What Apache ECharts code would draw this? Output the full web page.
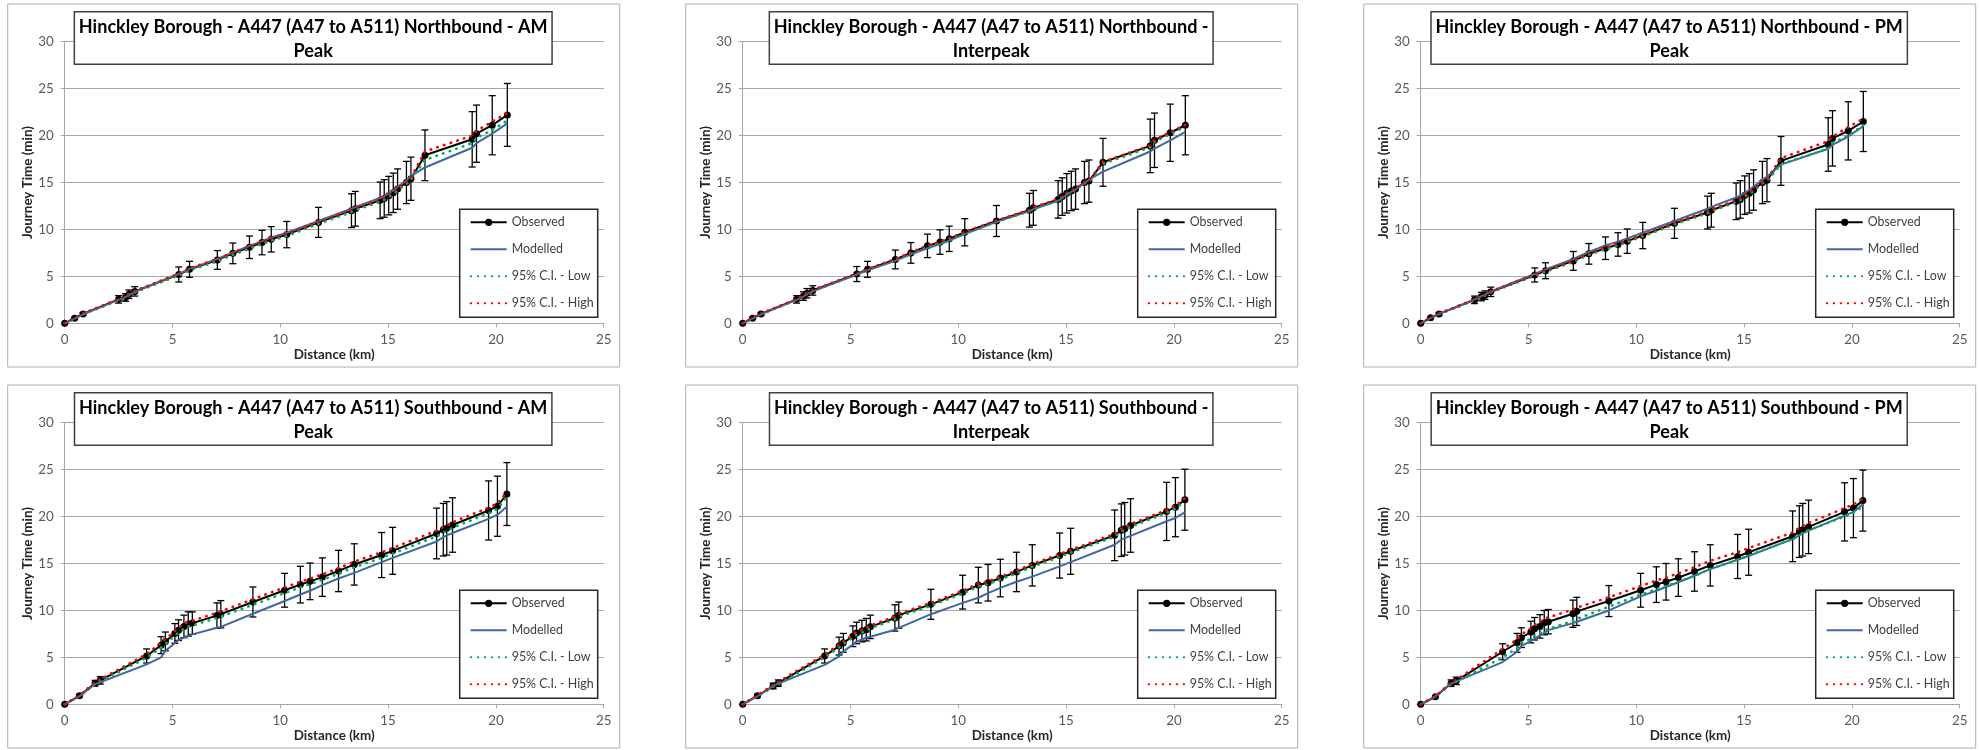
<!DOCTYPE html>
<html><head><meta charset="utf-8">
<script src="https://cdn.jsdelivr.net/npm/echarts@6/dist/echarts.min.js"></script>
<style>html,body{margin:0;padding:0;background:#fff;}#c{width:1979px;height:750px;}</style>
</head><body><div id="c"></div>
<script>
// ---------- data ----------
const xTicks = [0, 5, 10, 15, 20, 25];
const yTicks = [0, 5, 10, 15, 20, 25, 30];
const seriesNames = ['Observed', 'Modelled', '95% C.I. - Low', '95% C.I. - High'];

const distNB = [0, 0.46, 0.85, 2.5, 2.82, 2.98, 3.25, 5.29, 5.79, 7.08, 7.8, 8.57, 9.15, 9.58, 10.3, 11.77, 13.3, 13.48, 14.63, 14.82, 15.03, 15.24, 15.44, 15.85, 16.06, 16.71, 18.9, 19.1, 19.83, 20.53];
const distSB = [0, 0.68, 1.41, 1.65, 3.8, 4.47, 4.67, 5.11, 5.28, 5.53, 5.73, 5.92, 7.06, 7.24, 8.73, 10.2, 10.93, 11.38, 11.95, 12.7, 13.43, 14.7, 15.21, 17.25, 17.56, 17.72, 17.99, 19.66, 20.07, 20.51];

// Northbound AM
const nbAmObs  = [0, 0.55, 1.0, 2.55, 2.75, 3.1, 3.4, 5.2, 5.75, 6.75, 7.45, 8.1, 8.6, 8.95, 9.45, 10.75, 12.0, 12.2, 13.1, 13.3, 13.6, 13.9, 14.3, 15.0, 15.4, 17.9, 19.6, 20.2, 21.1, 22.2];
const nbAmMod  = [0, 0.5, 0.95, 2.5, 2.8, 3.0, 3.35, 5.25, 5.8, 6.85, 7.55, 8.25, 8.75, 9.15, 9.65, 10.9, 12.2, 12.4, 13.35, 13.55, 13.85, 14.15, 14.55, 15.2, 15.7, 16.6, 18.7, 19.2, 20.2, 21.3];
const nbAmLow  = [0, 0.5, 0.95, 2.45, 2.7, 3.0, 3.3, 5.1, 5.65, 6.6, 7.3, 7.95, 8.45, 8.8, 9.3, 10.6, 11.85, 12.05, 12.95, 13.15, 13.45, 13.75, 14.15, 14.85, 15.3, 17.4, 19.2, 19.75, 20.6, 21.6];
const nbAmHigh = [0, 0.6, 1.05, 2.6, 2.85, 3.15, 3.45, 5.3, 5.85, 6.85, 7.55, 8.2, 8.7, 9.05, 9.55, 10.85, 12.1, 12.3, 13.2, 13.4, 13.7, 14.0, 14.4, 15.1, 15.55, 18.3, 20.0, 20.5, 21.5, 22.4];
const nbAmErr  = [0, 0.1, 0.15, 0.4, 0.4, 0.45, 0.5, 0.8, 0.85, 1.0, 1.1, 1.2, 1.3, 1.35, 1.4, 1.6, 1.8, 1.85, 1.95, 2.0, 2.05, 2.1, 2.15, 2.25, 2.3, 2.7, 2.95, 3.05, 3.15, 3.35];

// Northbound Interpeak
const nbIpObs  = [0, 0.55, 1.0, 2.55, 2.9, 3.2, 3.5, 5.25, 5.75, 6.8, 7.5, 8.25, 8.65, 9.0, 9.7, 10.9, 12.05, 12.3, 13.2, 13.5, 13.85, 14.1, 14.3, 15.0, 15.15, 17.15, 18.9, 19.5, 20.3, 21.1];
const nbIpMod  = [0, 0.5, 0.95, 2.5, 2.85, 3.1, 3.4, 5.2, 5.65, 6.65, 7.35, 8.0, 8.45, 8.8, 9.5, 10.8, 11.95, 12.15, 13.05, 13.35, 13.7, 14.0, 14.25, 14.95, 15.3, 16.15, 18.3, 18.6, 19.5, 20.4];
const nbIpLow  = [0, 0.5, 0.95, 2.5, 2.85, 3.15, 3.45, 5.2, 5.7, 6.75, 7.45, 8.15, 8.55, 8.9, 9.6, 10.8, 11.95, 12.2, 13.1, 13.4, 13.75, 14.0, 14.2, 14.9, 15.05, 17.0, 18.75, 19.35, 20.15, 20.95];
const nbIpHigh = [0, 0.6, 1.05, 2.6, 2.95, 3.25, 3.55, 5.3, 5.8, 6.85, 7.55, 8.3, 8.7, 9.05, 9.75, 10.95, 12.1, 12.35, 13.25, 13.55, 13.9, 14.15, 14.35, 15.05, 15.2, 17.2, 18.95, 19.55, 20.35, 21.15];
const nbIpErr  = [0, 0.1, 0.15, 0.4, 0.45, 0.5, 0.5, 0.8, 0.85, 1.0, 1.1, 1.25, 1.3, 1.35, 1.45, 1.65, 1.8, 1.85, 2.0, 2.0, 2.1, 2.1, 2.15, 2.25, 2.25, 2.55, 2.85, 2.9, 3.05, 3.15];

// Northbound PM
const nbPmObs  = [0, 0.6, 1.0, 2.5, 2.85, 3.0, 3.35, 5.15, 5.6, 6.65, 7.4, 8.0, 8.4, 8.75, 9.35, 10.65, 11.8, 12.05, 13.0, 13.2, 13.65, 13.85, 14.2, 15.0, 15.25, 17.3, 19.05, 19.7, 20.5, 21.5];
const nbPmMod  = [0, 0.55, 1.0, 2.55, 2.9, 3.05, 3.4, 5.25, 5.75, 6.85, 7.6, 8.3, 8.7, 9.05, 9.65, 10.9, 12.2, 12.4, 13.4, 13.6, 13.9, 14.2, 14.55, 15.3, 15.6, 16.9, 18.6, 19.0, 19.9, 21.0];
const nbPmLow  = [0, 0.55, 0.95, 2.45, 2.8, 2.95, 3.3, 5.05, 5.5, 6.55, 7.3, 7.9, 8.3, 8.65, 9.25, 10.55, 11.7, 11.95, 12.9, 13.1, 13.5, 13.75, 14.1, 14.9, 15.15, 16.95, 18.6, 19.2, 20.0, 21.1];
const nbPmHigh = [0, 0.6, 1.05, 2.55, 2.9, 3.05, 3.4, 5.2, 5.65, 6.7, 7.45, 8.1, 8.5, 8.85, 9.45, 10.75, 11.9, 12.15, 13.1, 13.3, 13.75, 13.95, 14.3, 15.1, 15.35, 17.6, 19.4, 19.9, 20.9, 21.8];
const nbPmErr  = [0, 0.1, 0.15, 0.4, 0.45, 0.45, 0.5, 0.75, 0.85, 1.0, 1.1, 1.2, 1.25, 1.3, 1.4, 1.6, 1.75, 1.8, 1.95, 2.0, 2.05, 2.1, 2.15, 2.25, 2.3, 2.6, 2.85, 2.95, 3.1, 3.2];

// Southbound AM
const sbAmObs  = [0, 0.9, 2.25, 2.55, 5.15, 6.3, 6.7, 7.55, 7.9, 8.3, 8.55, 8.65, 9.45, 9.6, 10.9, 12.15, 12.75, 13.1, 13.55, 14.2, 14.9, 15.9, 16.35, 18.2, 18.6, 18.75, 19.1, 20.65, 21.1, 22.4];
const sbAmMod  = [0, 0.85, 2.15, 2.35, 4.25, 5.0, 5.7, 6.5, 6.85, 7.1, 7.25, 7.45, 8.15, 8.25, 9.65, 11.0, 11.7, 12.1, 12.7, 13.4, 14.0, 15.15, 15.6, 17.35, 17.8, 18.0, 18.25, 19.75, 20.2, 21.05];
const sbAmLow  = [0, 0.85, 2.15, 2.45, 4.95, 6.05, 6.45, 7.3, 7.65, 8.05, 8.3, 8.4, 9.2, 9.35, 10.6, 11.85, 12.45, 12.8, 13.25, 13.9, 14.6, 15.6, 16.05, 17.9, 18.3, 18.45, 18.8, 20.35, 20.8, 22.1];
const sbAmHigh = [0, 0.95, 2.35, 2.65, 5.35, 6.55, 6.95, 7.8, 8.15, 8.55, 8.8, 8.9, 9.75, 9.9, 11.2, 12.45, 13.05, 13.4, 13.85, 14.5, 15.2, 16.2, 16.65, 18.5, 18.9, 19.05, 19.4, 20.95, 21.4, 22.6];
const sbAmErr  = [0, 0.15, 0.3, 0.4, 0.75, 0.9, 1.0, 1.05, 1.1, 1.2, 1.3, 1.2, 1.35, 1.45, 1.6, 1.8, 1.95, 1.95, 2.05, 2.2, 2.2, 2.4, 2.5, 2.7, 2.8, 2.85, 2.9, 3.15, 3.2, 3.35];

// Southbound Interpeak
const sbIpObs  = [0, 0.9, 1.95, 2.25, 5.15, 6.2, 6.55, 7.25, 7.6, 7.8, 7.95, 8.25, 9.2, 9.5, 10.65, 11.95, 12.7, 12.95, 13.45, 14.1, 14.8, 15.85, 16.3, 18.0, 18.55, 18.7, 19.05, 20.55, 21.0, 21.8];
const sbIpMod  = [0, 0.85, 1.95, 2.2, 4.2, 5.1, 5.65, 6.35, 6.7, 6.9, 7.1, 7.2, 7.95, 8.15, 9.6, 10.8, 11.35, 11.85, 12.4, 13.05, 13.6, 14.7, 15.15, 17.0, 17.55, 17.7, 17.95, 19.5, 19.85, 20.45];
const sbIpLow  = [0, 0.85, 1.85, 2.1, 5.0, 6.05, 6.4, 7.1, 7.45, 7.65, 7.8, 8.1, 9.05, 9.35, 10.5, 11.8, 12.55, 12.8, 13.3, 13.95, 14.65, 15.7, 16.15, 17.85, 18.4, 18.55, 18.9, 20.4, 20.85, 21.65];
const sbIpHigh = [0, 0.95, 2.05, 2.4, 5.3, 6.35, 6.7, 7.4, 7.75, 7.95, 8.1, 8.4, 9.35, 9.65, 10.8, 12.1, 12.85, 13.1, 13.6, 14.25, 14.95, 16.0, 16.45, 18.15, 18.7, 18.85, 19.2, 20.7, 21.15, 21.95];
const sbIpErr  = [0, 0.15, 0.3, 0.35, 0.75, 0.95, 1.0, 1.1, 1.15, 1.15, 1.2, 1.25, 1.4, 1.4, 1.6, 1.8, 1.9, 1.95, 2.0, 2.1, 2.2, 2.4, 2.45, 2.7, 2.8, 2.8, 2.85, 3.1, 3.15, 3.25];

// Southbound PM
const sbPmObs  = [0, 0.8, 2.25, 2.5, 5.6, 6.55, 7.1, 7.7, 8.05, 8.3, 8.7, 8.8, 9.65, 9.9, 11.0, 12.15, 12.75, 13.05, 13.5, 14.15, 14.8, 15.75, 16.2, 17.9, 18.4, 18.6, 18.9, 20.5, 20.9, 21.7];
const sbPmMod  = [0, 0.85, 2.2, 2.45, 4.5, 5.6, 6.2, 6.75, 7.0, 7.35, 7.6, 7.9, 8.65, 8.8, 10.0, 11.5, 12.1, 12.5, 13.0, 13.7, 14.4, 15.4, 15.8, 17.6, 18.0, 18.2, 18.5, 20.1, 20.5, 21.3];
const sbPmLow  = [0, 0.8, 2.15, 2.4, 5.0, 6.0, 6.5, 7.0, 7.3, 7.55, 7.9, 8.0, 8.9, 9.1, 10.4, 11.7, 12.25, 12.6, 13.05, 13.7, 14.4, 15.4, 15.85, 17.6, 18.05, 18.25, 18.55, 20.0, 20.4, 21.1];
const sbPmHigh = [0, 0.85, 2.35, 2.6, 5.9, 6.9, 7.45, 8.1, 8.45, 8.75, 9.15, 9.25, 10.1, 10.3, 11.4, 12.6, 13.2, 13.5, 13.95, 14.6, 15.3, 16.2, 16.65, 18.3, 18.8, 19.0, 19.3, 20.9, 21.3, 21.9];
const sbPmErr  = [0, 0.1, 0.35, 0.4, 0.85, 1.0, 1.05, 1.15, 1.2, 1.25, 1.3, 1.3, 1.45, 1.5, 1.65, 1.8, 1.9, 1.95, 2.0, 2.1, 2.2, 2.35, 2.45, 2.7, 2.75, 2.8, 2.85, 3.1, 3.15, 3.25];

const titles = [
  ['Hinckley Borough - A447 (A47 to A511) Northbound - AM', 'Peak'],
  ['Hinckley Borough - A447 (A47 to A511) Northbound -', 'Interpeak'],
  ['Hinckley Borough - A447 (A47 to A511) Northbound - PM', 'Peak'],
  ['Hinckley Borough - A447 (A47 to A511) Southbound - AM', 'Peak'],
  ['Hinckley Borough - A447 (A47 to A511) Southbound -', 'Interpeak'],
  ['Hinckley Borough - A447 (A47 to A511) Southbound - PM', 'Peak']
];
const xName = 'Distance (km)';
const yName = 'Journey Time (min)';

// ---------- build ----------
const panels = [
  {dist: distNB, obs: nbAmObs, mod: nbAmMod, low: nbAmLow, high: nbAmHigh, err: nbAmErr},
  {dist: distNB, obs: nbIpObs, mod: nbIpMod, low: nbIpLow, high: nbIpHigh, err: nbIpErr},
  {dist: distNB, obs: nbPmObs, mod: nbPmMod, low: nbPmLow, high: nbPmHigh, err: nbPmErr},
  {dist: distSB, obs: sbAmObs, mod: sbAmMod, low: sbAmLow, high: sbAmHigh, err: sbAmErr},
  {dist: distSB, obs: sbIpObs, mod: sbIpMod, low: sbIpLow, high: sbIpHigh, err: sbIpErr},
  {dist: distSB, obs: sbPmObs, mod: sbPmMod, low: sbPmLow, high: sbPmHigh, err: sbPmErr}
];

const FONT = 'Lato, "Open Sans", "DejaVu Sans", sans-serif';
const ctx = document.createElement('canvas').getContext('2d');
function measure(t, f) { ctx.font = f; return ctx.measureText(t).width; }
const fit = (text, target, bold) => 20 * target / measure(text, (bold ? 'bold ' : '') + '20px ' + FONT);
const titleSize = fit(titles[0][0], 469, true);
const legendSize = fit('95% C.I. - High', 82, false);
const tickSize = fit('30', 15.5, false);
const xNameSize = fit(xName, 81, true);
const yNameSize = fit(yName, 113, true);

const PW = 539, PH = 281.6;
const colLeft = [64.7, 742.7, 1420.7];
const rowTop = [41.7, 422.7];

const grid = [], xAxis = [], yAxis = [], series = [], legend = [], graphic = [];
const toPts = (d, v) => d.map((x, j) => [x, v[j]]);
const dotted = [0.5, 6.5];

panels.forEach((p, i) => {
  const L = colLeft[i % 3], T = rowTop[Math.floor(i / 3)];
  grid.push({left: L, top: T, width: PW, height: PH});
  xAxis.push({
    type: 'value', gridIndex: i, min: xTicks[0], max: xTicks[xTicks.length - 1], interval: 5,
    axisLine: {show: true, onZero: false, lineStyle: {color: '#a6a6a6', width: 1}},
    axisTick: {show: true, length: 4, lineStyle: {color: '#a6a6a6'}},
    axisLabel: {color: '#595959', fontSize: tickSize, margin: 10, fontFamily: FONT},
    splitLine: {show: false},
    name: xName, nameLocation: 'middle', nameGap: 25,
    nameTextStyle: {fontWeight: 'bold', fontSize: xNameSize, color: '#262626', fontFamily: FONT}
  });
  yAxis.push({
    type: 'value', gridIndex: i, min: yTicks[0], max: yTicks[yTicks.length - 1], interval: 5,
    axisLine: {show: true, lineStyle: {color: '#a6a6a6', width: 1}},
    axisTick: {show: true, length: 4, lineStyle: {color: '#a6a6a6'}},
    axisLabel: {color: '#595959', fontSize: tickSize, margin: 11, fontFamily: FONT},
    splitLine: {show: true, lineStyle: {color: '#a6a6a6', width: 1}},
    name: yName, nameLocation: 'middle', nameGap: 30, nameRotate: 90,
    nameTextStyle: {fontWeight: 'bold', fontSize: yNameSize, color: '#262626', fontFamily: FONT}
  });
  series.push({
    type: 'custom', xAxisIndex: i, yAxisIndex: i, silent: true, z: 2,
    data: p.dist.map((x, j) => [x, p.obs[j] - p.err[j], p.obs[j] + p.err[j]]),
    renderItem: (params, api) => {
      const x = api.value(0);
      if (api.value(2) - api.value(1) <= 0) return null;
      const lo = api.coord([x, api.value(1)]), hi = api.coord([x, api.value(2)]);
      const w = 3.5, st = {stroke: '#000', lineWidth: 1.3};
      return {type: 'group', children: [
        {type: 'line', shape: {x1: lo[0], y1: lo[1], x2: hi[0], y2: hi[1]}, style: st},
        {type: 'line', shape: {x1: lo[0] - w, y1: lo[1], x2: lo[0] + w, y2: lo[1]}, style: st},
        {type: 'line', shape: {x1: hi[0] - w, y1: hi[1], x2: hi[0] + w, y2: hi[1]}, style: st}
      ]};
    }
  });
  series.push({
    name: seriesNames[0], type: 'line', xAxisIndex: i, yAxisIndex: i, z: 3,
    data: toPts(p.dist, p.obs), symbol: 'circle', symbolSize: 7,
    lineStyle: {color: '#000', width: 2}, itemStyle: {color: '#000'}
  });
  series.push({
    name: seriesNames[1], type: 'line', xAxisIndex: i, yAxisIndex: i, z: 4,
    data: toPts(p.dist, p.mod), symbol: 'none',
    lineStyle: {color: '#3f67a0', width: 2}, itemStyle: {color: '#3f67a0'}
  });
  series.push({
    name: seriesNames[2], type: 'line', xAxisIndex: i, yAxisIndex: i, z: 5,
    data: toPts(p.dist, p.low), symbol: 'none',
    lineStyle: {color: '#00b050', width: 2.6, type: dotted, cap: 'round'}, itemStyle: {color: '#00b050'}
  });
  series.push({
    name: seriesNames[3], type: 'line', xAxisIndex: i, yAxisIndex: i, z: 6,
    data: toPts(p.dist, p.high), symbol: 'none',
    lineStyle: {color: '#ff0000', width: 2.6, type: dotted, cap: 'round'}, itemStyle: {color: '#ff0000'}
  });
  // panel frame
  graphic.push({type: 'rect', z: -10, shape: {x: L - 57, y: T - 37.7, width: 612, height: 363},
    style: {fill: 'none', stroke: '#b0b0b0', lineWidth: 1}});
  // title box
  const tf = 'bold ' + titleSize.toFixed(2) + 'px ' + FONT;
  const tw = Math.max(measure(titles[i][0], tf), measure(titles[i][1], tf)) + 9;
  const cx = L + PW / 2 - 21;
  graphic.push({type: 'rect', z: 50, shape: {x: cx - tw / 2, y: T - 30, width: tw, height: 52.5},
    style: {fill: '#fff', stroke: '#404040', lineWidth: 1.5}});
  titles[i].forEach((line, k) => {
    graphic.push({type: 'text', z: 51, x: cx, y: T - 15 + k * 24,
      style: {text: line, font: tf, fill: '#000', align: 'center', verticalAlign: 'middle',
              textAlign: 'center', textVerticalAlign: 'middle'}});
  });
  // legend box
  graphic.push({type: 'rect', z: 40, shape: {x: L + 395, y: T + 167.5, width: 138, height: 108},
    style: {fill: '#fff', stroke: '#262626', lineWidth: 1.5}});
  legend.push({
    left: L + 405, top: T + 173.6, orient: 'vertical', itemWidth: 36, itemHeight: 9, itemGap: 13,
    padding: 0, selectedMode: false, z: 60,
    data: [
      {name: seriesNames[0]},
      {name: seriesNames[1], itemStyle: {opacity: 0}},
      {name: seriesNames[2], itemStyle: {opacity: 0}},
      {name: seriesNames[3], itemStyle: {opacity: 0}}
    ],
    textStyle: {fontSize: legendSize, color: '#404040', fontFamily: FONT, lineHeight: 14}
  });
});

const chart = echarts.init(document.getElementById('c'));
chart.setOption({
  backgroundColor: '#fff', animation: false,
  grid, xAxis, yAxis, series, legend,
  graphic: {elements: graphic}
});
</script></body></html>
